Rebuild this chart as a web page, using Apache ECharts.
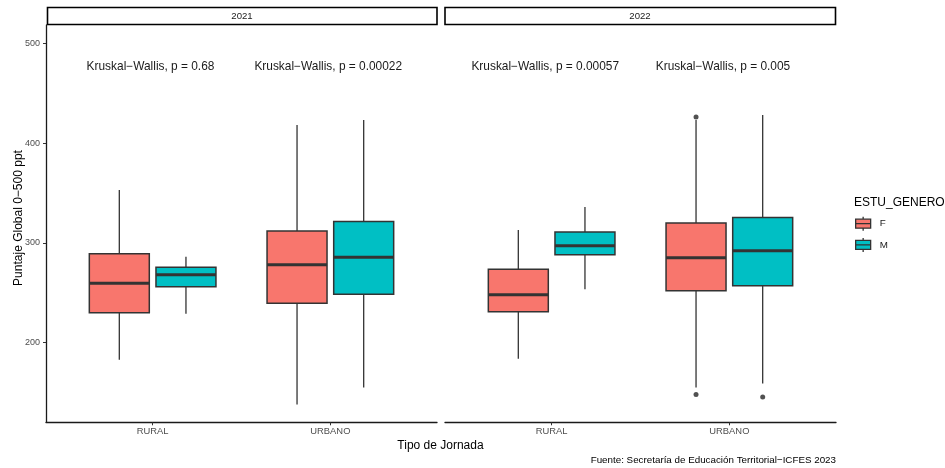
<!DOCTYPE html>
<html>
<head>
<meta charset="utf-8">
<title>Puntaje Global por Tipo de Jornada</title>
<script src="https://cdn.jsdelivr.net/npm/echarts@6.0.0/dist/echarts.min.js"></script>
<style>
  html, body { margin: 0; padding: 0; background: #fff; }
  #chart { width: 945px; height: 468px; }
</style>
</head>
<body>
<div id="chart"></div>
<script>
// categorías y paneles
const categories = ['RURAL', 'URBANO'];
const years = ['2021', '2022'];
const genders = ['F', 'M'];

// [min, q1, mediana, q3, max] por categoría
const f2021 = [[183, 230, 259.5, 289, 353], [138, 239.5, 278, 312, 418]];
const m2021 = [[229, 256, 268, 275.5, 286], [155, 248.5, 285.5, 321.5, 423]];
const f2022 = [[184, 231, 248, 273.5, 313], [155, 252, 285, 320, 423]];
const m2022 = [[253.5, 288, 297, 311, 336], [159, 257, 292, 325.5, 428]];

// atípicos: [índice de categoría, valor]
const outF2021 = [];
const outM2021 = [];
const outF2022 = [[1, 426], [1, 148]];
const outM2022 = [[1, 145.5]];

// p-valores de Kruskal-Wallis por panel
const pValues = [['0.68', '0.00022'], ['0.00057', '0.005']];

const yTicks = [200, 300, 400, 500];

const boxes = [[f2021, m2021], [f2022, m2022]];
const outliers = [[outF2021, outM2021], [outF2022, outM2022]];

const colors = ['#F8766D', '#00BFC4'];
const EDGE = '#333333';
const FONT = 'Liberation Sans, Arial, sans-serif';
const DODGE = [-0.1875, 0.1875];
const BOX_WIDTH = 0.3375;
const LABEL_Y = 476;
const LABEL_SHIFT = [-0.012, -0.036];

const chart = echarts.init(document.getElementById('chart'));

function boxRenderer(offset, fill) {
  return function (params, api) {
    const x = api.value(0) + offset;
    const top = api.coord([x, api.value(5)]);
    const q3 = api.coord([x, api.value(4)]);
    const med = api.coord([x, api.value(3)]);
    const q1 = api.coord([x, api.value(2)]);
    const bot = api.coord([x, api.value(1)]);
    const half = api.size([BOX_WIDTH, 0])[0] / 2;
    const whisker = { stroke: EDGE, lineWidth: 1.3 };
    return {
      type: 'group',
      children: [
        { type: 'line', shape: { x1: top[0], y1: top[1], x2: q3[0], y2: q3[1] }, style: whisker },
        { type: 'line', shape: { x1: q1[0], y1: q1[1], x2: bot[0], y2: bot[1] }, style: whisker },
        {
          type: 'rect',
          shape: { x: q3[0] - half, y: q3[1], width: half * 2, height: q1[1] - q3[1] },
          style: { fill: fill, stroke: EDGE, lineWidth: 1.5 }
        },
        {
          type: 'line',
          shape: { x1: med[0] - half, y1: med[1], x2: med[0] + half, y2: med[1] },
          style: { stroke: EDGE, lineWidth: 3 }
        }
      ]
    };
  };
}

const xAxes = years.map((y, g) => ({
  type: 'value',
  gridIndex: g,
  min: 0.4,
  max: 2.6,
  splitLine: { show: false },
  axisLine: { show: true, lineStyle: { color: '#1a1a1a', width: 1.3 } },
  axisTick: { show: true, customValues: [1, 2], length: 3, lineStyle: { color: EDGE, width: 1 } },
  axisLabel: {
    customValues: [1, 2],
    formatter: v => categories[Math.round(v) - 1],
    color: '#4D4D4D',
    fontSize: 9.4,
    fontFamily: FONT,
    margin: 5
  }
}));

const yAxes = years.map((y, g) => ({
  type: 'value',
  gridIndex: g,
  min: 120.2,
  max: 518.3,
  show: g === 0,
  splitLine: { show: false },
  axisLine: { show: true, lineStyle: { color: '#1a1a1a', width: 1.3 } },
  axisTick: { show: true, customValues: yTicks, length: 3, lineStyle: { color: EDGE, width: 1 } },
  axisLabel: {
    customValues: yTicks,
    color: '#4D4D4D',
    fontSize: 9,
    fontFamily: FONT,
    margin: 6
  }
}));

const series = [];
years.forEach((y, g) => {
  genders.forEach((name, k) => {
    series.push({
      name: name,
      type: 'custom',
      xAxisIndex: g,
      yAxisIndex: g,
      itemStyle: { color: colors[k] },
      encode: { x: 0, y: [1, 2, 3, 4, 5] },
      renderItem: boxRenderer(DODGE[k], colors[k]),
      data: boxes[g][k].map((d, i) => [i + 1].concat(d))
    });
    series.push({
      name: name,
      type: 'scatter',
      xAxisIndex: g,
      yAxisIndex: g,
      symbolSize: 5,
      itemStyle: { color: '#262626' },
      data: outliers[g][k].map(d => [d[0] + 1 + DODGE[k], d[1]])
    });
  });
  series.push({
    name: 'kruskal',
    type: 'custom',
    xAxisIndex: g,
    yAxisIndex: g,
    silent: true,
    encode: { x: 0, y: 1 },
    renderItem: function (params, api) {
      const c = api.coord([api.value(0), api.value(1)]);
      return {
        type: 'text',
        style: {
          text: 'Kruskal\u2212Wallis, p = ' + pValues[g][params.dataIndex],
          x: c[0],
          y: c[1],
          align: 'center',
          verticalAlign: 'middle',
          fill: '#1a1a1a',
          fontSize: 11.9,
          fontFamily: FONT
        }
      };
    },
    data: pValues[g].map((p, i) => [i + 1 + LABEL_SHIFT[g], LABEL_Y])
  });
});

const legendIcon = 'path://M0,2.5H15V7H0Z M0,7H15V11.5H0Z M7.5,0V2.5 M7.5,11.5V14';

const option = {
  animation: false,
  backgroundColor: '#ffffff',
  textStyle: { fontFamily: FONT },
  grid: [
    { left: 46, top: 25, width: 391, bottom: 45.7 },
    { left: 445, top: 25, width: 391, bottom: 45.7 }
  ],
  xAxis: xAxes,
  yAxis: yAxes,
  legend: {
    orient: 'vertical',
    left: 855,
    top: 216,
    padding: 0,
    itemWidth: 15,
    itemHeight: 14,
    itemGap: 6,
    selectedMode: false,
    textStyle: { fontSize: 9.8, color: '#1a1a1a', fontFamily: FONT, padding: [0, 0, 0, 4] },
    data: genders.map((name, k) => ({
      name: name,
      icon: legendIcon,
      itemStyle: { color: colors[k], borderColor: EDGE, borderWidth: 1.3 }
    }))
  },
  graphic: [
    // tiras de faceta
    { type: 'rect', shape: { x: 47.5, y: 7.5, width: 389.5, height: 17 }, style: { fill: '#fff', stroke: '#000', lineWidth: 1.6 } },
    { type: 'text', x: 242, y: 16.5, style: { text: years[0], fill: '#1a1a1a', fontSize: 9.6, fontFamily: FONT, align: 'center', verticalAlign: 'middle' } },
    { type: 'rect', shape: { x: 445, y: 7.5, width: 390.5, height: 17 }, style: { fill: '#fff', stroke: '#000', lineWidth: 1.6 } },
    { type: 'text', x: 640, y: 16.5, style: { text: years[1], fill: '#1a1a1a', fontSize: 9.6, fontFamily: FONT, align: 'center', verticalAlign: 'middle' } },
    // títulos de ejes y fuente
    { type: 'text', x: 19, y: 218, rotation: Math.PI / 2, style: { text: 'Puntaje Global 0\u2212500 ppt', fill: '#000', fontSize: 12, fontFamily: FONT, align: 'center', verticalAlign: 'middle' } },
    { type: 'text', x: 440.5, y: 445.5, style: { text: 'Tipo de Jornada', fill: '#000', fontSize: 12, fontFamily: FONT, align: 'center', verticalAlign: 'middle' } },
    { type: 'text', x: 836, y: 460.5, style: { text: 'Fuente: Secretaría de Educación Territorial\u2212ICFES 2023', fill: '#000', fontSize: 9.8, fontFamily: FONT, align: 'right', verticalAlign: 'middle' } },
    { type: 'text', x: 854, y: 202.5, style: { text: 'ESTU_GENERO', fill: '#000', fontSize: 12, fontFamily: FONT, align: 'left', verticalAlign: 'middle' } }
  ],
  series: series
};

chart.setOption(option);
window.addEventListener('resize', () => chart.resize());
</script>
</body>
</html>
